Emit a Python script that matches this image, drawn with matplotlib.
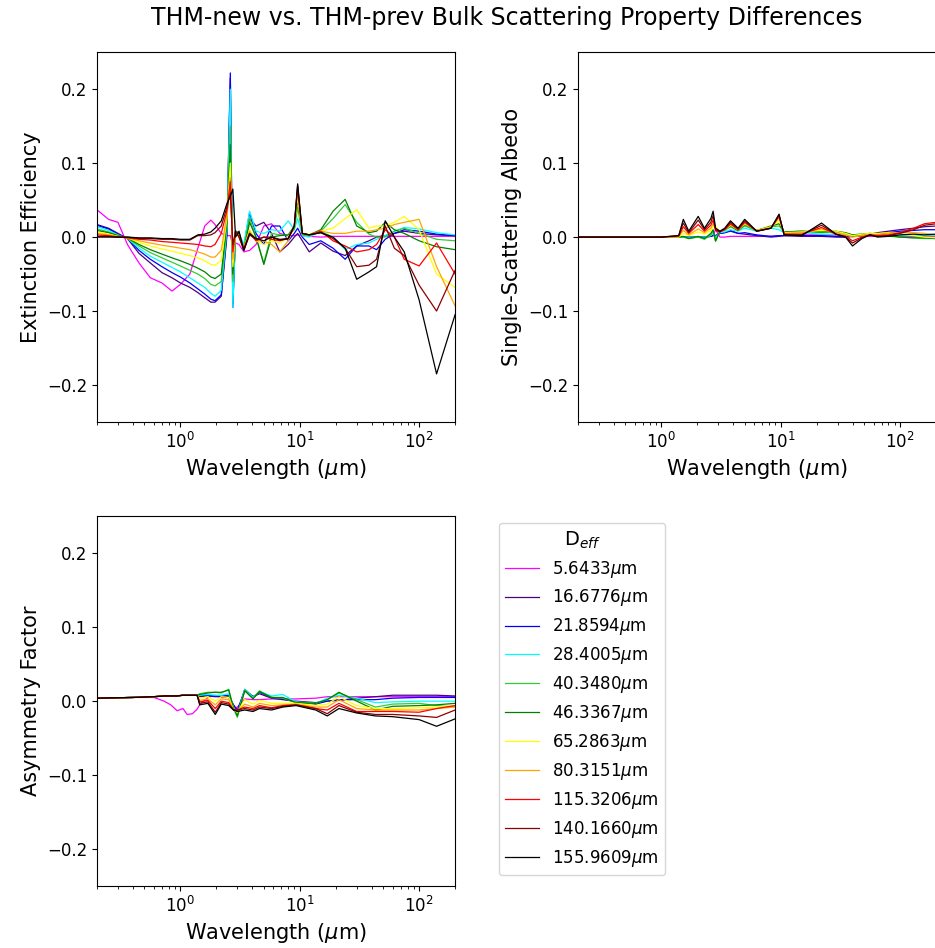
import numpy as np
import matplotlib.pyplot as plt

# D_eff values (legend) and line colours
deff = ["5.6433", "16.6776", "21.8594", "28.4005", "40.3480", "46.3367",
        "65.2863", "80.3151", "115.3206", "140.1660", "155.9609"]
colors = ["magenta", "indigo", "blue", "cyan", "limegreen", "green",
          "yellow", "orange", "red", "darkred", "black"]

# ---- extinction efficiency differences (x 1e-3) ----
wl_qe = [0.2, 0.25, 0.3, 0.36, 0.45, 0.56, 0.7, 0.85, 1.0, 1.2,
         1.4, 1.6, 1.8, 1.95, 2.2, 2.45, 2.62, 2.75, 2.9, 3.1,
         3.4, 3.8, 4.3, 5.0, 5.8, 6.8, 8.0, 9.0, 9.6, 10.5,
         12, 15, 19, 24, 30, 38, 44, 52, 62, 75,
         100, 140, 200]
qe_d06 = [37, 24, 20, -10, -35, -55, -62, -73, -64, -50,
          -15, 15, 23, 17, 5, 2, 2, -12, -8, -10,
          -20, -18, -10, 15, 18, 5, 2, 2, 3, 2,
          1, 0, 1, 1, 1, 1, 1, 1, 1, 1,
          1, 1, 1]
qe_d17 = [17, 12, 5, -2, -22, -35, -48, -55, -62, -68,
          -75, -82, -88, -88, -80, 0, 215, -90, 8, 5,
          -15, 25, 15, 20, 5, -20, -10, 0, 5, -5,
          -20, -8, -19, -25, -12, -5, 0, 2, 5, 8,
          5, 3, 2]
qe_d22 = [16, 11, 4, -2, -18, -30, -40, -48, -54, -62,
          -70, -77, -84, -86, -78, 5, 222, -95, 8, 5,
          -12, 33, 5, -10, 15, 15, -5, 5, 12, 0,
          -10, -5, -15, -30, -12, -12, -17, -3, 5, 10,
          8, 4, 2]
qe_d28 = [14, 9, 3, -2, -15, -26, -34, -41, -47, -55,
          -62, -68, -76, -80, -72, 10, 200, -95, 8, 5,
          -10, 35, 8, 5, 10, 8, 22, 10, 25, 2,
          0, 8, 0, -17, -10, -8, -3, 2, 8, 13,
          11, 6, 3]
qe_d40 = [11, 7, 2, -2, -12, -21, -28, -34, -39, -45,
          -50, -56, -64, -66, -60, 15, 150, -60, 8, 5,
          -15, 26, 0, -35, 5, 3, 2, 10, 40, 3,
          2, 8, 25, 44, 20, 4, 0, 0, 8, 12,
          5, -3, -5]
qe_d46 = [9, 6, 2, -1, -10, -17, -23, -28, -32, -37,
          -42, -47, -54, -56, -50, 20, 125, -50, 8, 5,
          -18, 20, 0, -37, 0, 2, 3, 15, 50, 5,
          3, 10, 35, 51, 15, 6, 8, 20, 10, 5,
          -5, -13, -17]
qe_d65 = [7, 4, 1, -1, -7, -12, -16, -19, -22, -25,
          -28, -32, -37, -38, -32, 25, 100, -40, 8, 0,
          -15, 10, -5, -10, -5, -8, 0, 15, 55, 5,
          3, 8, 12, 25, 37, 12, 15, 15, 20, 28,
          10, -50, -68]
qe_d80 = [5, 3, 1, -1, -5, -8, -11, -13, -15, -17,
          -20, -23, -27, -27, -18, 30, 80, -30, 8, 0,
          -15, 8, -5, -5, -10, -20, -5, 15, 60, 5,
          3, 8, 5, 5, 8, 8, 10, 12, 17, 20,
          24, -40, -93]
qe_d115 = [3, 2, 0, -1, -3, -4, -6, -7, -8, -9,
           -10, -12, -13, -10, 5, 35, 75, -20, 8, 0,
           -15, 5, -5, 0, -3, -5, -2, 15, 68, 5,
           3, 8, -5, -12, -20, -17, -10, 10, 0, -30,
           -39, -8, -50]
qe_d140 = [1, 1, 0, 0, -2, -2, -3, -3, -4, -4,
           2, 2, 3, 6, 15, 40, 60, -10, 8, 0,
           -18, 3, -3, 0, 0, -3, -2, 15, 70, 5,
           3, 6, -2, -15, -40, -38, -30, 15, -15, -25,
           -65, -100, -45]
qe_d156 = [0, 0, 0, 0, -1, -1, -2, -2, -3, -3,
           3, 4, 7, 12, 22, 45, 55, 65, 0, 8,
           -18, 5, -2, -5, 0, -4, -2, 15, 72, 5,
           3, 6, 0, -15, -57, -47, -40, 22, 0, -20,
           -85, -185, -105]

# ---- single-scattering albedo differences (x 1e-3) ----
wl_ssa = [0.2, 1.0, 1.4, 1.53, 1.7, 2.04, 2.3, 2.6, 2.72, 2.85,
          3.1, 3.4, 3.8, 4.4, 5.0, 6.3, 8.3, 9.7, 10.7, 15,
          22, 29, 35, 40, 48, 56, 65, 80, 100, 130,
          160, 200]
ssa_d06 = [0, 0, 0, 0, 0, 0, 0, 1, 2, 10,
           0, 0, 1, 1, 1, 1, 1, 2, 2, 3,
           3, 3, 2, 1, 1, 1, 1, 1, 1, 1,
           1, 1]
ssa_d17 = [0, 0, 0, 0, 0, 0, 0, 1, 2, 2,
           5, 6, 9, 5, 4, 2, 0, 1, 2, 1,
           1, 0, 0, 1, 2, 4, 6, 8, 10, 12,
           14, 15]
ssa_d22 = [0, 0, 0, 0, 0, 0, 0, 1, 3, 2,
           5, 6, 8, 5, 6, 3, 1, 2, 2, 2,
           2, 1, 0, 1, 2, 3, 4, 6, 8, 9,
           10, 10]
ssa_d28 = [0, 0, 0, 0, 0, 0, 0, 2, 5, 0,
           6, 7, 10, 8, 12, 8, 12, 10, 6, 6,
           4, 4, 3, 3, 3, 3, 2, 2, 2, 2,
           2, 2]
ssa_d40 = [0, 0, 0, 0, -2, 0, -3, 3, 8, -6,
           8, 9, 14, 9, 15, 9, 14, 15, 7, 8,
           6, 7, 5, 3, 4, 4, 3, 1, 0, -1,
           -2, -2]
ssa_d46 = [0, 0, 0, 1, -2, 1, -2, 5, 10, -5,
           8, 10, 15, 9, 17, 9, 15, 18, 7, 8,
           7, 8, 6, 3, 4, 5, 4, 2, 0, -1,
           -1, -2]
ssa_d65 = [0, 0, 0, 5, 2, 7, 4, 9, 14, 14,
           8, 10, 16, 10, 18, 9, 14, 22, 6, 7,
           9, 8, 5, 2, 4, 5, 5, 6, 4, 2,
           0, -1]
ssa_d80 = [0, 0, 1, 9, 3, 11, 6, 12, 18, 12,
           8, 10, 17, 10, 19, 9, 13, 26, 5, 6,
           11, 6, 3, 0, 2, 4, 3, 5, 6, 6,
           5, 3]
ssa_d115 = [0, 0, 1, 14, 5, 17, 8, 16, 23, 9,
            7, 10, 18, 10, 20, 8, 12, 28, 4, 4,
            13, 4, 1, -5, 0, 3, 2, 3, 6, 12,
            18, 20]
ssa_d140 = [0, 0, 2, 19, 6, 23, 10, 20, 29, 10,
            7, 11, 20, 11, 22, 8, 12, 30, 3, 3,
            16, 4, 0, -8, -1, 3, 1, 2, 5, 10,
            16, 18]
ssa_d156 = [0, 0, 2, 24, 8, 28, 12, 25, 35, 12,
            8, 12, 22, 12, 24, 8, 12, 31, 3, 2,
            19, 4, 0, -12, -2, 3, 0, 1, 3, 4,
            3, 4]

# ---- asymmetry factor differences (x 1e-3) ----
wl_asy = [0.2, 0.4, 0.6, 0.73, 0.83, 0.94, 1.05, 1.14, 1.26, 1.38,
          1.45, 1.7, 1.96, 2.2, 2.54, 2.79, 3.0, 3.46, 4.06, 4.6,
          5.8, 7.2, 9.3, 13.6, 17, 21.3, 30, 43, 60, 100,
          140, 200]
asy_d06 = [4, 5, 5, 0, -5, -13, -10, -18, -17, -11,
           -5, 5, 8, 5, 5, -10, -8, 3, 2, 2,
           3, 3, 3, 4, 6, 6, 6, 6, 6, 6,
           6, 6]
asy_d17 = [4, 5, 6, 7, 7, 7, 8, 8, 8, 8,
           6, 7, 6, 6, 6, -5, -12, 14, 6, 10,
           4, 2, 0, -2, 0, 1, 4, 6, 8, 8,
           8, 7]
asy_d22 = [4, 5, 6, 7, 7, 7, 8, 8, 8, 8,
           7, 8, 7, 7, 8, -6, -15, 16, 6, 12,
           5, 3, -1, -4, 0, 2, 2, 2, 4, 5,
           5, 5]
asy_d28 = [4, 5, 6, 7, 7, 7, 8, 8, 8, 8,
           8, 9, 8, 8, 10, -8, -18, 16, 5, 13,
           7, 9, -1, -3, 4, 8, 4, -2, -1, 0,
           0, 0]
asy_d40 = [4, 5, 6, 7, 7, 7, 8, 8, 8, 8,
           10, 12, 12, 11, 16, -10, -22, 15, 4, 14,
           5, 4, -2, -3, 2, 11, 2, -8, -4, -3,
           -6, -8]
asy_d46 = [4, 5, 6, 7, 7, 7, 8, 8, 8, 8,
           9, 11, 12, 12, 15, -10, -20, 14, 3, 13,
           5, 5, -2, -3, 2, 12, 0, -12, -7, -6,
           -5, -3]
asy_d65 = [4, 5, 6, 7, 7, 7, 8, 8, 8, 8,
           4, 6, 0, 6, 5, -12, -15, 2, -4, 1,
           -3, -3, -3, -6, -4, 6, -6, -10, -10, -9,
           -8, -6]
asy_d80 = [4, 5, 6, 7, 7, 7, 8, 8, 8, 8,
           1, 3, -5, 3, 2, -12, -14, -4, -8, -3,
           -6, -5, -4, -8, -8, 2, -10, -12, -12, -12,
           -10, -8]
asy_d115 = [4, 5, 6, 7, 7, 7, 8, 8, 8, 8,
            -1, 1, -10, 0, -2, -12, -12, -8, -10, -6,
            -9, -6, -5, -10, -12, -3, -14, -14, -14, -15,
            -10, -6]
asy_d140 = [4, 5, 6, 7, 7, 7, 8, 8, 8, 8,
            -3, -1, -15, -2, -4, -12, -12, -10, -12, -8,
            -10, -7, -5, -10, -17, -6, -15, -18, -18, -20,
            -22, -12]
asy_d156 = [4, 5, 6, 7, 7, 7, 8, 8, 8, 8,
            -5, -3, -18, -4, -6, -12, -14, -12, -14, -10,
            -12, -8, -6, -12, -20, -10, -16, -20, -21, -25,
            -34, -24]

qe_all = [qe_d06, qe_d17, qe_d22, qe_d28, qe_d40, qe_d46,
          qe_d65, qe_d80, qe_d115, qe_d140, qe_d156]
ssa_all = [ssa_d06, ssa_d17, ssa_d22, ssa_d28, ssa_d40, ssa_d46,
           ssa_d65, ssa_d80, ssa_d115, ssa_d140, ssa_d156]
asy_all = [asy_d06, asy_d17, asy_d22, asy_d28, asy_d40, asy_d46,
           asy_d65, asy_d80, asy_d115, asy_d140, asy_d156]

fig = plt.figure(figsize=(9.35, 9.48), dpi=100)
ax1 = fig.add_axes([0.1037, 0.5549, 0.383, 0.390])
ax2 = fig.add_axes([0.618, 0.5549, 0.383, 0.390])
ax3 = fig.add_axes([0.1037, 0.0654, 0.383, 0.390])

panels = [(ax1, wl_qe, qe_all, "Extinction Efficiency"),
          (ax2, wl_ssa, ssa_all, "Single-Scattering Albedo"),
          (ax3, wl_asy, asy_all, "Asymmetry Factor")]

for ax, wl, rows, ylab in panels:
    for vals, c, d in zip(rows, colors, deff):
        ax.plot(wl, np.array(vals) / 1000.0, color=c, lw=0.9,
                label=d + r"$\mu$m")
    ax.set_xscale("log")
    ax.set_xlim(0.2, 200)
    ax.set_ylim(-0.25, 0.25)
    ax.set_yticks([-0.2, -0.1, 0.0, 0.1, 0.2])
    ax.set_xlabel(r"Wavelength ($\mu$m)", fontsize=15)
    ax.set_ylabel(ylab, fontsize=15)
    ax.tick_params(labelsize=12)

handles, labels = ax1.get_legend_handles_labels()
fig.legend(handles, labels, loc="upper left", bbox_to_anchor=(0.5244, 0.4575),
           title=r"D$_{eff}$", fontsize=12, title_fontsize=14,
           labelspacing=0.475)

fig.suptitle("THM-new vs. THM-prev Bulk Scattering Property Differences",
             fontsize=17, x=0.542, y=0.981, va="center")

fig.savefig("out.png", dpi=100)
